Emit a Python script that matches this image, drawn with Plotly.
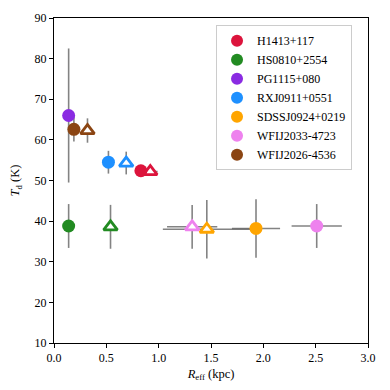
import plotly.graph_objects as go

names = ['H1413+117', 'HS0810+2554', 'PG1115+080', 'RXJ0911+0551',
         'SDSSJ0924+0219', 'WFIJ2033-4723', 'WFIJ2026-4536']
colors = ['#DC143C', '#228B22', '#8A2BE2', '#1E90FF',
          '#FFA500', '#EE82EE', '#8B4513']

# filled circles
circ_r = [0.83, 0.14, 0.14, 0.52, 1.93, 2.51, 0.19]
circ_t = [52.4, 38.8, 66.0, 54.5, 38.2, 38.8, 62.6]
circ_rerr = [0.05, 0.0, 0.0, 0.0, 0.23, 0.24, 0.0]
circ_terr = [1.0, 5.4, 16.5, 2.8, 7.2, 5.4, 3.0]

# open triangles (PG1115+080 has none)
tri_names = ['H1413+117', 'HS0810+2554', 'RXJ0911+0551',
             'SDSSJ0924+0219', 'WFIJ2033-4723', 'WFIJ2026-4536']
tri_r = [0.92, 0.54, 0.69, 1.46, 1.32, 0.32]
tri_t = [52.2, 38.6, 54.3, 38.0, 38.6, 62.3]
tri_rerr = [0.07, 0.0, 0.0, 0.42, 0.24, 0.0]
tri_terr = [1.0, 5.4, 2.8, 7.2, 5.4, 3.0]

err_col = 'rgba(90,90,90,0.75)'
font = 'Liberation Serif'

fig = go.Figure()

# error bars first, so markers sit on top
for xs, ys, xe, ye in [(circ_r, circ_t, circ_rerr, circ_terr),
                       (tri_r, tri_t, tri_rerr, tri_terr)]:
    fig.add_trace(go.Scatter(
        x=xs, y=ys, mode='markers',
        marker=dict(size=1, opacity=0),
        error_x=dict(type='data', array=xe, color=err_col, thickness=1.6, width=0),
        error_y=dict(type='data', array=ye, color=err_col, thickness=1.6, width=0),
        showlegend=False, hoverinfo='skip'))

for i, name in enumerate(tri_names):
    c = colors[names.index(name)]
    fig.add_trace(go.Scatter(
        x=[tri_r[i]], y=[tri_t[i]], mode='markers',
        marker=dict(symbol='triangle-up', size=12, color='white',
                    line=dict(color=c, width=2.8)),
        showlegend=False))

for i, name in enumerate(names):
    fig.add_trace(go.Scatter(
        x=[circ_r[i]], y=[circ_t[i]], mode='markers', name=name,
        marker=dict(symbol='circle', size=13, color=colors[i])))

# page body adds an 8px offset, so margins are shifted to compensate
fig.update_layout(
    width=390, height=390,
    margin=dict(l=46, r=30, t=10, b=55),
    plot_bgcolor='white', paper_bgcolor='white',
    font=dict(family=font, size=12, color='black'),
    legend=dict(x=0.516, y=0.978, xanchor='left', yanchor='top',
                bgcolor='white', bordercolor='#cccccc', borderwidth=1,
                font=dict(size=12), itemsizing='constant',
                tracegroupgap=0),
)
fig.update_xaxes(
    range=[0, 3.0], dtick=0.5, tickformat='.1f', automargin=False,
    ticks='outside', ticklen=4, tickcolor='black',
    showgrid=False, zeroline=False,
    showline=True, linecolor='black', linewidth=1, mirror=True,
    title=dict(text='<i>R</i><sub>eff</sub> (kpc)', standoff=4, font=dict(size=12.5)))
fig.update_yaxes(
    range=[10, 90], dtick=10, automargin=False,
    ticks='outside', ticklen=4, tickcolor='black',
    showgrid=False, zeroline=False,
    showline=True, linecolor='black', linewidth=1, mirror=True,
    title=dict(text='<i>T</i><sub>d</sub> (K)', standoff=14, font=dict(size=12.5)))

fig.write_html('out.html')
